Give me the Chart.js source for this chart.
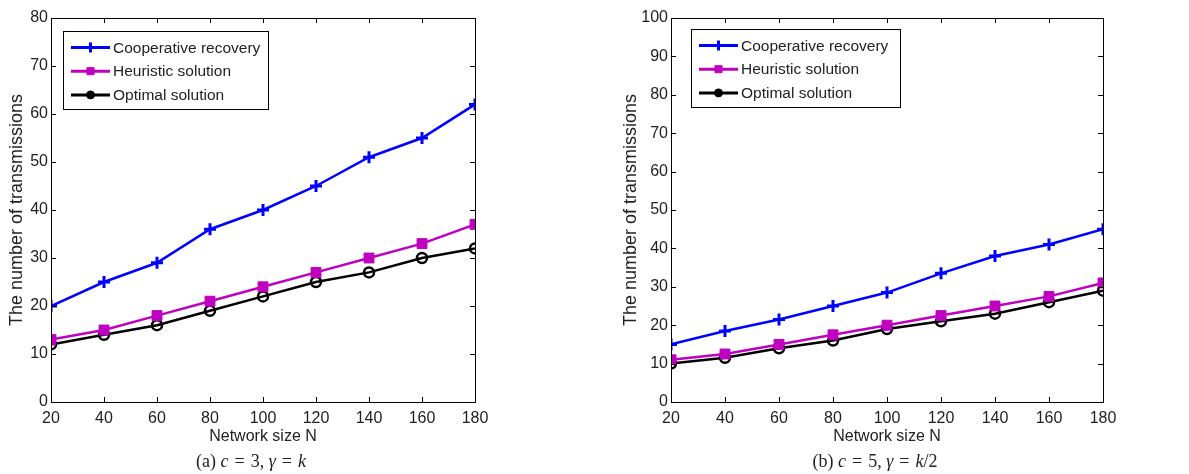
<!DOCTYPE html>
<html>
<head>
<meta charset="utf-8">
<script src="https://cdn.jsdelivr.net/npm/chart.js@4.4.1/dist/chart.umd.min.js"></script>
<style>
  body { margin: 0; background: #fff; width: 1189px; height: 474px; position: relative; overflow: hidden; }
  .wrap { position: absolute; top: 0; height: 474px; }
  .cap { position: absolute; top: 451px; width: 240px; text-align: center; font: 18px "Liberation Serif", "DejaVu Serif", serif; color: #222; white-space: nowrap; }
  .cap i { font-style: italic; }
  .cap .eq { margin: 0 6px; }
</style>
</head>
<body>
<div class="wrap" style="left:0;width:595px"><canvas id="chartA" width="595" height="474"></canvas></div>
<div class="wrap" style="left:600px;width:589px"><canvas id="chartB" width="589" height="474"></canvas></div>
<div class="cap" style="left:131px">(a) <i>c</i><span class="eq">=</span>3, <i>γ</i><span class="eq">=</span><i>k</i></div>
<div class="cap" style="left:755px">(b) <i>c</i><span class="eq">=</span>5, <i>γ</i><span class="eq">=</span><i>k</i>/2</div>
<script>
// network sizes
const networkSize = [20, 40, 60, 80, 100, 120, 140, 160, 180];

// (a) c = 3, gamma = k
const coopA = [20, 25, 29, 36, 40, 45, 51, 55, 62];
const heurA = [13, 15, 18, 21, 24, 27, 30, 33, 37];
const optA  = [12, 14, 16, 19, 22, 25, 27, 30, 32];

// (b) c = 5, gamma = k/2
const coopB = [15, 18.5, 21.5, 25, 28.5, 33.5, 38, 41, 45];
const heurB = [11, 12.5, 15, 17.5, 20, 22.5, 25, 27.5, 31];
const optB  = [10, 11.5, 14, 16, 19, 21, 23, 26, 29];

const seriesNames = ['Cooperative recovery', 'Heuristic solution', 'Optimal solution'];

const FONT = '"Liberation Sans", Arial, sans-serif';
const TXT = '#222';

function pts(ys) {
    return networkSize.map((x, i) => ({ x: x, y: ys[i] }));
}

// matlab-ish box, inward ticks and legend in the corner
const matlabBox = {
    id: 'matlabBox',
    afterDatasetsDraw(chart, args, opts) {
        const ctx = chart.ctx;
        const a = chart.chartArea;
        const xs = chart.scales.x, ys = chart.scales.y;
        ctx.save();
        ctx.strokeStyle = '#000';
        ctx.lineWidth = 1;
        ctx.strokeRect(Math.round(a.left) + 0.5, Math.round(a.top) + 0.5,
                       Math.round(a.right - a.left), Math.round(a.bottom - a.top));
        ctx.beginPath();
        xs.ticks.forEach(t => {
            const px = Math.round(xs.getPixelForValue(t.value)) + 0.5;
            ctx.moveTo(px, a.bottom); ctx.lineTo(px, a.bottom - 5);
            ctx.moveTo(px, a.top); ctx.lineTo(px, a.top + 5);
        });
        ys.ticks.forEach(t => {
            const py = Math.round(ys.getPixelForValue(t.value)) + 0.5;
            ctx.moveTo(a.left, py); ctx.lineTo(a.left + 5, py);
            ctx.moveTo(a.right, py); ctx.lineTo(a.right - 5, py);
        });
        ctx.stroke();

        // legend
        const lx = a.left + opts.dx, ly = a.top + opts.dy;
        ctx.fillStyle = '#fff';
        ctx.fillRect(lx, ly, opts.w, opts.h);
        ctx.strokeRect(Math.round(lx) + 0.5, Math.round(ly) + 0.5, opts.w, opts.h);
        ctx.font = '15.5px ' + FONT;
        ctx.textBaseline = 'middle';
        chart.data.datasets.forEach((ds, i) => {
            const y = ly + 16.5 + i * 23.7;
            ctx.strokeStyle = ds.borderColor;
            ctx.lineWidth = 3;
            ctx.beginPath();
            ctx.moveTo(lx + 8, y); ctx.lineTo(lx + 47, y);
            ctx.stroke();
            ctx.fillStyle = ds.borderColor;
            ctx.lineWidth = ds.pointStyle === 'cross' ? 3 : 1;
            Chart.helpers.drawPoint(ctx, {
                pointStyle: ds.pointStyle,
                radius: ds.pointStyle === 'circle' ? 4 : 5,
                borderWidth: ctx.lineWidth
            }, lx + 27.5, y);
            ctx.fillStyle = TXT;
            ctx.fillText(ds.label, lx + 50, y + 1);
        });
        ctx.restore();
    }
};

function styleDatasets(coop, heur, opt) {
    return [
        { label: seriesNames[0], data: pts(coop), borderColor: '#0000ff', backgroundColor: '#0000ff',
          borderWidth: 2.5, pointStyle: 'cross', pointRadius: 6, pointBorderWidth: 3 },
        { label: seriesNames[1], data: pts(heur), borderColor: '#bf00bf', backgroundColor: '#bf00bf',
          borderWidth: 2.5, pointStyle: 'rect', pointRadius: 7, pointBorderWidth: 1 },
        { label: seriesNames[2], data: pts(opt), borderColor: '#000000', backgroundColor: 'rgba(255,255,255,0)',
          borderWidth: 2.5, pointStyle: 'circle', pointRadius: 5, pointBorderWidth: 2.5 }
    ];
}

function makeChart(id, datasets, yMax, yWidth, titlePad, rightPad, legend) {
    const ctx = document.getElementById(id).getContext('2d');
    return new Chart(ctx, {
        type: 'line',
        data: { datasets: datasets },
        options: {
            responsive: false,
            animation: false,
            layout: { padding: { left: 0, right: rightPad, top: 18, bottom: 22 } },
            scales: {
                x: {
                    type: 'linear',
                    min: 20, max: 180,
                    ticks: { stepSize: 20, color: TXT, font: { family: FONT, size: 16 }, padding: 7, maxRotation: 0 },
                    grid: { display: false, drawTicks: false },
                    border: { display: false },
                    title: { display: true, text: 'Network size N', color: TXT,
                             font: { family: FONT, size: 16 }, padding: { top: 0, bottom: 6 } },
                    afterFit: s => { s.height = 50; }
                },
                y: {
                    min: 0, max: yMax,
                    ticks: { stepSize: 10, color: TXT, font: { family: FONT, size: 16 }, padding: 3 },
                    grid: { display: false, drawTicks: false },
                    border: { display: false },
                    title: { display: true, text: 'The number of transmissions', color: TXT,
                             font: { family: FONT, size: 18 }, padding: { top: titlePad, bottom: 0 } },
                    afterFit: s => { s.width = yWidth; }
                }
            },
            plugins: {
                legend: { display: false },
                tooltip: { enabled: false },
                matlabBox: legend
            }
        },
        plugins: [matlabBox]
    });
}

makeChart('chartA', styleDatasets(coopA, heurA, optA), 80, 51, 6, 120,
          { dx: 12, dy: 13, w: 205, h: 78 });
makeChart('chartB', styleDatasets(coopB, heurB, optB), 100, 71, 20, 86,
          { dx: 20, dy: 11, w: 209, h: 78 });
</script>
</body>
</html>
